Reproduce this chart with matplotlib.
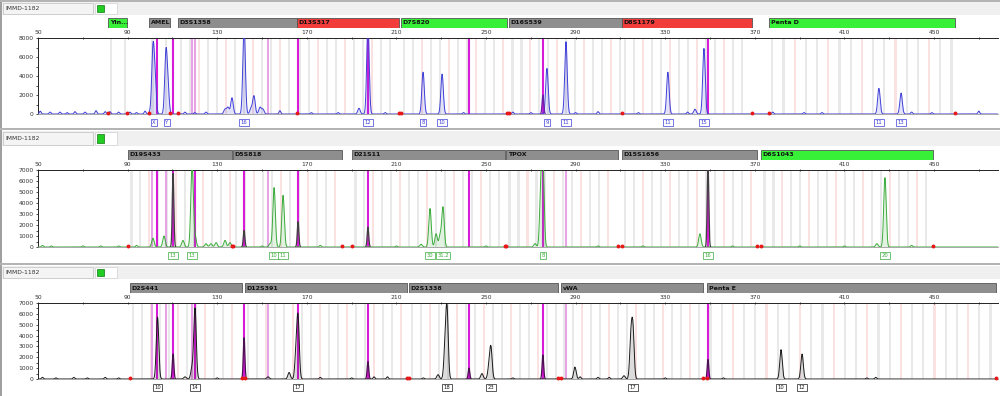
import numpy as np
import matplotlib
matplotlib.use("Agg")
from matplotlib import pyplot as plt
from matplotlib.patches import Rectangle
import matplotlib.transforms as mtransforms

plt.rcParams['font.family'] = ['DejaVu Sans']

W, H = 1000, 396
sample = "IMMD-1182"

# ---- marker bars (bp start, bp end, colour, repeat unit)
markers1 = ["Yin...", "AMEL", "D3S1358", "D13S317", "D7S820", "D16S539", "D8S1179", "Penta D"]
mstart1 = [81.2, 99.6, 112.5, 165.6, 212.0, 260.3, 310.7, 376.3]
mend1 = [89.7, 109.0, 165.6, 211.2, 259.4, 310.7, 368.75, 459.4]
mcol1 = ["green", "gray", "gray", "red", "green", "gray", "red", "green"]
munit1 = [6, 6, 4, 4, 4, 4, 4, 5]

markers2 = ["D19S433", "D5S818", "D21S11", "TPOX", "D15S1656", "D6S1043"]
mstart2 = [90.2, 137.0, 190.2, 259.0, 310.7, 372.8]
mend2 = [136.6, 185.7, 258.5, 309.0, 371.0, 449.6]
mcol2 = ["gray", "gray", "gray", "gray", "gray", "green"]
munit2 = [4, 4, 4, 4, 4, 4]

markers3 = ["D2S441", "D12S391", "D2S1338", "vWA", "Penta E"]
mstart3 = [91.0, 142.4, 215.6, 283.5, 348.7]
mend3 = [141.0, 214.7, 282.0, 346.9, 477.7]
mcol3 = ["gray", "gray", "gray", "gray", "gray"]
munit3 = [4, 4, 4, 4, 5]

# ---- peaks (bp, rfu)
peak_x1 = [101.3, 102.2, 107.1, 108.0, 142.0, 136.6, 134.8, 133.5, 146.4, 145.1, 149.1, 150.4,
           197.3, 193.3, 221.9, 230.4, 277.2, 285.7, 331.2, 343.3, 347.3, 425.4, 435.3]
peak_y1 = [6500, 3500, 6200, 2600, 9500, 1700, 700, 500, 1900, 600, 700, 500,
           9500, 600, 4400, 4200, 4800, 7600, 4400, 500, 6900, 2700, 2200]
noise_x1 = [51, 55.4, 59.8, 63, 66.5, 71, 75.9, 80, 82.1, 86, 91, 94, 97.8, 100, 115.6, 120,
            125, 158, 172, 184, 205, 240, 262, 270, 290, 300, 318, 340, 378, 392, 400, 440, 449, 470]
noise_y1 = [300, 200, 200, 150, 250, 200, 350, 250, 250, 200, 200, 150, 300, 200, 200, 150,
            200, 350, 150, 150, 150, 150, 200, 150, 150, 250, 150, 200, 200, 150, 150, 200, 150, 300]
pull_x1 = [275.4]
pull_y1 = [2000]
allele_x1 = [101.8, 107.6, 142.0, 197.3, 221.9, 230.4, 277.2, 285.7, 331.2, 347.3, 425.4, 435.3]
allele_t1 = ["X", "Y", "16", "12", "8", "10", "9", "11", "11", "15", "11", "13"]

peak_x2 = [101.3, 106.25, 114.7, 118.75, 120.1, 125.0, 127.2, 129.5, 133.5, 135.7, 153.6, 155.4,
           159.4, 221.0, 225.0, 227.7, 229.5, 230.8, 271.9, 274.5, 275.4, 345.5, 424.5, 428.1]
peak_y2 = [800, 1000, 600, 7500, 1000, 300, 300, 400, 600, 400, 300, 5400,
           4700, 250, 3500, 1200, 1000, 3600, 300, 5000, 7500, 1200, 300, 6300]
noise_x2 = [52, 56, 70, 78, 86, 94, 150, 176, 210, 250, 300, 320, 360, 390, 410, 440]
noise_y2 = [150, 100, 100, 100, 100, 150, 100, 150, 100, 100, 100, 100, 100, 100, 100, 150]
pull_x2 = [110.3, 142.0, 166.1, 197.3, 349.1]
pull_y2 = [6700, 1500, 2300, 1800, 7500]
allele_x2 = [110.3, 118.75, 155.4, 159.4, 225.0, 230.8, 275.4, 349.1, 428.1]
allele_t2 = ["13", "13", "10", "11", "30", "31.2", "8", "16", "20"]

peak_x3 = [103.35, 115.6, 118.75, 120.1, 152.7, 162.1, 165.2, 166.1, 228.6, 231.7, 232.6,
           248.2, 251.3, 252.2, 289.7, 311.6, 314.7, 315.6, 381.7, 391.1]
peak_y3 = [5700, 200, 1000, 6500, 200, 600, 2200, 5400, 400, 2600, 6200,
           500, 1000, 2800, 1100, 300, 3600, 4300, 2700, 2300]
noise_x3 = [52, 58, 66, 72, 80, 86, 130, 176, 190, 200, 206, 222, 262, 292, 300, 305, 330, 356, 420, 424]
noise_y3 = [150, 100, 150, 100, 150, 100, 100, 150, 100, 200, 200, 100, 100, 200, 150, 150, 100, 100, 100, 150]
pull_x3 = [110.3, 142.0, 197.3, 242.4, 275.4, 349.1]
pull_y3 = [2300, 3800, 1600, 1000, 2200, 1800]
allele_x3 = [103.35, 120.1, 166.1, 232.6, 252.2, 315.6, 381.7, 391.1]
allele_t3 = ["10", "14", "17", "18", "23", "17", "10", "12"]

# magenta pull-up markers
mag_strong1 = [103.1, 110.3, 166.1, 197.3, 242.4, 275.4, 349.1]
mag_light1 = [118.75, 120.1, 152.7]
mag_strong2 = [103.1, 110.3, 120.1, 142.0, 166.1, 197.3, 242.4, 275.4, 349.1]
mag_light2 = [100.9, 107.1, 152.7, 285.7]
mag_strong3 = [103.1, 110.3, 120.1, 142.0, 166.1, 197.3, 242.4, 275.4, 349.1]
mag_light3 = [100.9, 107.1, 118.75, 152.7, 285.7]

bar_colors = {"gray": "#8e8e8e", "red": "#f23c3c", "green": "#38f038"}

panels = [
    dict(top=38, bot=114, btop=18, hdr=(2, 15), ymax=8000, ystep=2000,
         names=markers1, ms=mstart1, me=mend1, mc=mcol1, mu=munit1,
         px=peak_x1, py=peak_y1, nx=noise_x1, ny=noise_y1, ux=pull_x1, uy=pull_y1,
         ax_=allele_x1, at=allele_t1, ms1=mag_strong1, ml=mag_light1,
         col="#3f3fd8", pcol="#6a1fa8"),
    dict(top=170, bot=247, btop=150, hdr=(131, 146), ymax=7000, ystep=1000,
         names=markers2, ms=mstart2, me=mend2, mc=mcol2, mu=munit2,
         px=peak_x2, py=peak_y2, nx=noise_x2, ny=noise_y2, ux=pull_x2, uy=pull_y2,
         ax_=allele_x2, at=allele_t2, ms1=mag_strong2, ml=mag_light2,
         col="#3aaa3a", pcol="#404040"),
    dict(top=303, bot=379, btop=283, hdr=(266, 279), ymax=7000, ystep=1000,
         names=markers3, ms=mstart3, me=mend3, mc=mcol3, mu=munit3,
         px=peak_x3, py=peak_y3, nx=noise_x3, ny=noise_y3, ux=pull_x3, uy=pull_y3,
         ax_=allele_x3, at=allele_t3, ms1=mag_strong3, ml=mag_light3,
         col="#1a1a1a", pcol="#4a1050"),
]

fig = plt.figure(figsize=(W / 100, H / 100), dpi=100)
fig.patch.set_facecolor("white")

x_lo = 50
x_hi = 50 + (998 - 38) / 2.24
grid = np.linspace(x_lo, x_hi, 8000)


def trace(xs, ys, sig):
    y = np.zeros_like(grid)
    for m, h in zip(xs, ys):
        y += h * np.exp(-0.5 * ((grid - m) / sig) ** 2)
    return y


def figrect(x0, y0, x1, y1, **kw):
    fig.add_artist(Rectangle((x0 / W, 1 - y1 / H), (x1 - x0) / W, (y1 - y0) / H,
                             transform=fig.transFigure, **kw))


# outer frame / separators
figrect(0, 0, 1.5, H, facecolor="#a0a0a0", edgecolor="none")
for sep in [0, 128, 263]:
    figrect(0, sep, W, sep + 1.5, facecolor="#b4b4b4", edgecolor="none")

for p in panels:
    h0, h1 = p["hdr"]
    figrect(1.5, h0, W, h1, facecolor="#f0f0f0", edgecolor="none")
    figrect(3, h0 + 1, 93, h1 - 1, facecolor="#f4f4f4", edgecolor="#c8c8c8", linewidth=0.6)
    fig.text(5 / W, 1 - (h0 + h1) / 2 / H, sample, fontsize=4.3, color="#333333", va="center")
    figrect(95, h0 + 1, 117, h1 - 1, facecolor="white", edgecolor="#d0d0d0", linewidth=0.5)
    figrect(97, h0 + 3, 104, h1 - 3, facecolor="#22cc22", edgecolor="#117711", linewidth=0.5)

    left, width = 38 / W, 960 / W
    ax = fig.add_axes([left, 1 - p["bot"] / H, width, (p["bot"] - p["top"]) / H])
    ax.set_xlim(x_lo, x_hi)
    ax.set_ylim(0, p["ymax"])

    # bins
    for s, e, u in zip(p["ms"], p["me"], p["mu"]):
        k = 0
        b = s + 1.5
        while b < e - 0.8:
            c = "#fbe2e2" if k % 3 == 2 else "#e9e9e9"
            ax.axvspan(b - 0.5, b + 0.5, color=c, lw=0, zorder=0)
            b += u
            k += 1
    for m in p["ml"]:
        ax.axvline(m, color="#e6a3e6", lw=1.5, zorder=1)
    for m in p["ms1"]:
        ax.axvline(m, color="#d81bd8", lw=1.5, zorder=1)

    y = trace(p["px"], p["py"], 0.55) + trace(p["nx"], p["ny"], 0.4)
    ax.fill_between(grid, 0, y, color=p["col"], alpha=0.15, lw=0, zorder=2)
    ax.plot(grid, y, color=p["col"], lw=0.7, zorder=3)
    yp = trace(p["ux"], p["uy"], 0.35)
    ax.plot(grid, np.where(yp > 30, yp, np.nan), color=p["pcol"], lw=0.9, zorder=4)

    # red range markers on baseline
    edges = sorted(set(p["ms"] + p["me"]))
    ax.plot(edges, [60] * len(edges), ls="none", marker="o", ms=1.8, color="#e81818",
            clip_on=False, zorder=5)

    trans = mtransforms.blended_transform_factory(ax.transData, ax.transAxes)
    for xa, t in zip(p["ax_"], p["at"]):
        ax.text(xa, -0.11, t, transform=trans, fontsize=3.8, color=p["col"], ha="center",
                va="center", bbox=dict(boxstyle="square,pad=0.25", fc="white", ec=p["col"], lw=0.5))

    ax.xaxis.tick_top()
    ax.set_xticks(np.arange(50, 451, 40))
    ax.set_xticks(np.arange(70, 471, 40), minor=True)
    ax.tick_params(axis="x", which="both", labelsize=4.3, length=1.8, width=0.6, pad=1,
                   direction="inout", colors="#333333")
    ax.set_yticks(np.arange(0, p["ymax"] + 1, p["ystep"]))
    ax.set_yticks(np.arange(0, p["ymax"] + 1, p["ystep"] / 2), minor=True)
    ax.tick_params(axis="y", which="both", labelsize=4.3, length=1.8, width=0.6, pad=1.5,
                   colors="#333333")
    ax.spines["right"].set_visible(False)
    ax.spines["bottom"].set_color("#9a9a9a")
    ax.spines["bottom"].set_linewidth(0.6)
    for sp in ["left", "top"]:
        ax.spines[sp].set_color("#222222")
        ax.spines[sp].set_linewidth(0.7)

    bax = fig.add_axes([left, 1 - (p["btop"] + 10) / H, width, 10 / H])
    bax.set_xlim(x_lo, x_hi)
    bax.set_ylim(0, 1)
    bax.axis("off")
    for name, s, e, c in zip(p["names"], p["ms"], p["me"], p["mc"]):
        bax.add_patch(Rectangle((s, 0), e - s, 1, facecolor=bar_colors[c], edgecolor="#555555",
                                lw=0.6))
        bax.text(s + 0.8, 0.5, name, fontsize=4.5, fontweight="bold", va="center", ha="left",
                 color="#111111", clip_on=True)

plt.savefig("out.png", dpi=100)
